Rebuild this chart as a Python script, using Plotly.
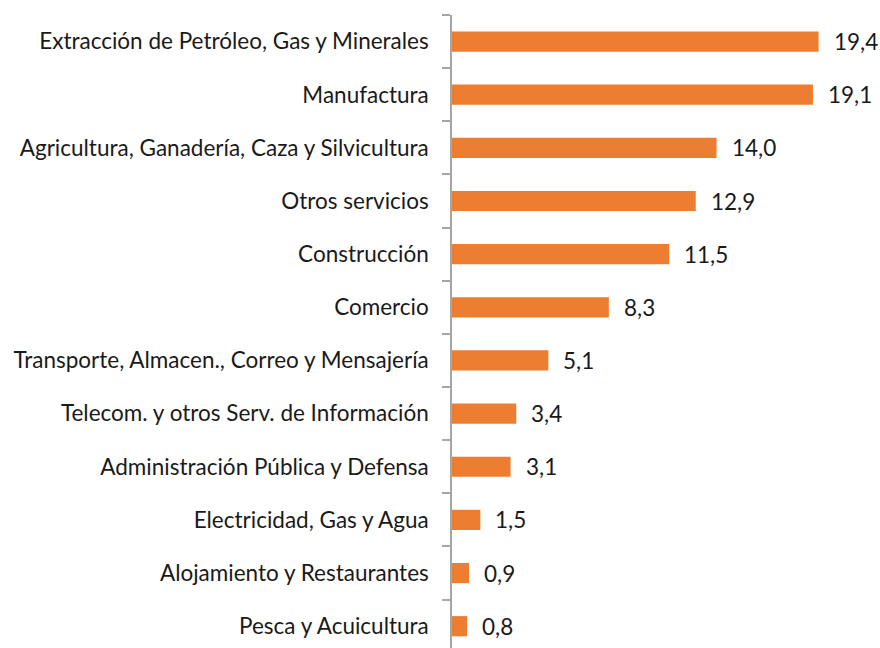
import plotly.graph_objects as go

categories = [
    "Extracción de Petróleo, Gas y Minerales",
    "Manufactura",
    "Agricultura, Ganadería, Caza y Silvicultura",
    "Otros servicios",
    "Construcción",
    "Comercio",
    "Transporte, Almacen., Correo y Mensajería",
    "Telecom. y otros Serv. de Información",
    "Administración Pública y Defensa",
    "Electricidad, Gas y Agua",
    "Alojamiento y Restaurantes",
    "Pesca y Acuicultura",
]
values = [19.4, 19.1, 14.0, 12.9, 11.5, 8.3, 5.1, 3.4, 3.1, 1.5, 0.9, 0.8]
value_labels = [f"{v:.1f}".replace(".", ",") for v in values]

FONT = "Lato"
FS = 22.5
fig = go.Figure()
fig.add_trace(go.Bar(
    x=values, y=categories, orientation="h",
    marker=dict(color="#ED7D31", line=dict(width=0)),
    width=0.38, hoverinfo="skip",
))
for c, v, t in zip(categories, values, value_labels):
    fig.add_annotation(x=v, y=c, text=t, showarrow=False, xanchor="left",
                       xshift=13, font=dict(family=FONT, size=FS, color="#1a1a1a"))

fig.update_layout(
    width=880, height=648,
    margin=dict(l=452, r=0, t=15, b=0),
    paper_bgcolor="white", plot_bgcolor="white",
    showlegend=False,
    font=dict(family=FONT, size=FS, color="#1a1a1a"),
    xaxis=dict(range=[0, 22.65], visible=False, showgrid=False, zeroline=False),
    yaxis=dict(
        categoryorder="array", categoryarray=categories,
        range=[11.41, -0.5], automargin=False,
        showline=True, linecolor="#A6A6A6", linewidth=1.5,
        ticks="outside", ticklen=8, tickcolor="#A6A6A6", tickwidth=1.5,
        tickson="boundaries", showgrid=False, zeroline=False,
        ticklabelstandoff=17,
    ),
)
fig.write_html("out.html", config={"displayModeBar": False},
               post_script="document.body.style.margin='0';document.body.style.overflow='hidden';")
